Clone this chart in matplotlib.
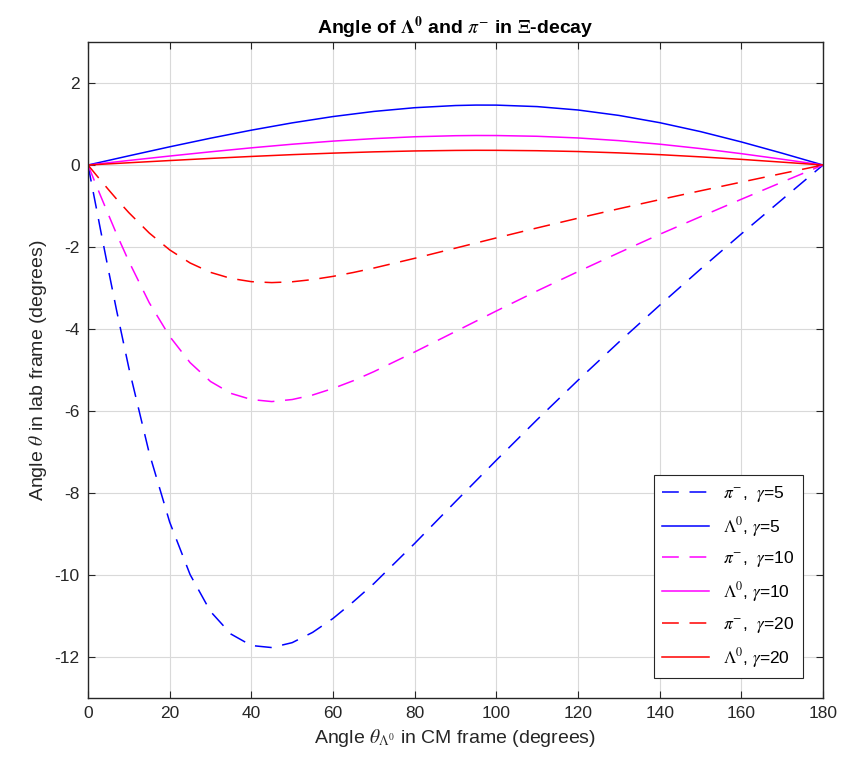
import matplotlib
matplotlib.use("Agg")
import matplotlib.pyplot as plt

plt.rcParams['font.family'] = ['Liberation Sans', 'DejaVu Sans']
plt.rcParams['mathtext.fontset'] = 'stix'
plt.rcParams['axes.unicode_minus'] = False

# CM angle of the Lambda (degrees)
t_pi = [0, 1, 2, 3, 5, 7, 10, 15, 20, 25, 30, 35, 40, 45, 50, 55, 60, 65, 70,
        80, 90, 100, 110, 120, 130, 140, 150, 160, 170, 180]
t_lam = [0, 10, 20, 30, 40, 50, 60, 70, 80, 90, 95, 100, 110, 120, 130,
         140, 150, 160, 170, 180]

# lab angle (degrees)
pi_g5 = [0, -0.518, -1.03, -1.548, -2.56, -3.546, -4.95, -7.03, -8.71, -9.99,
         -10.89, -11.44, -11.72, -11.77, -11.65, -11.40, -11.06, -10.65,
         -10.21, -9.23, -8.21, -7.20, -6.21, -5.25, -4.32, -3.42, -2.54,
         -1.68, -0.84, 0]
pi_g10 = [0, -0.245, -0.49, -0.733, -1.21, -1.683, -2.35, -3.36, -4.18, -4.82,
          -5.28, -5.57, -5.72, -5.77, -5.72, -5.61, -5.45, -5.26, -5.04,
          -4.56, -4.06, -3.56, -3.07, -2.60, -2.14, -1.69, -1.26, -0.835,
          -0.416, 0]
pi_g20 = [0, -0.121, -0.242, -0.362, -0.599, -0.831, -1.162, -1.659, -2.070,
          -2.389, -2.618, -2.766, -2.845, -2.868, -2.848, -2.794, -2.716,
          -2.621, -2.513, -2.276, -2.027, -1.778, -1.534, -1.297, -1.067,
          -0.845, -0.629, -0.417, -0.207, 0]
lam_g5 = [0, 0.224, 0.444, 0.654, 0.850, 1.028, 1.182, 1.307, 1.398, 1.451,
          1.462, 1.461, 1.425, 1.342, 1.210, 1.033, 0.815, 0.563, 0.288, 0]
lam_g10 = [0, 0.111, 0.219, 0.322, 0.419, 0.507, 0.583, 0.644, 0.689, 0.715,
           0.720, 0.719, 0.701, 0.660, 0.595, 0.508, 0.401, 0.277, 0.141, 0]
lam_g20 = [0, 0.055, 0.109, 0.161, 0.209, 0.253, 0.290, 0.321, 0.343, 0.356,
           0.359, 0.358, 0.349, 0.329, 0.296, 0.253, 0.199, 0.138, 0.070, 0]

fig = plt.figure(figsize=(8.43, 7.84), dpi=100)
ax = fig.add_axes([0.1044, 0.1097, 0.8719, 0.8367])

dash = (0, (11, 7))
lw = 1.1
ax.plot(t_pi, pi_g5, color=(0, 0, 1), ls=dash, lw=lw, label=r'$\pi^{-}$,  $\gamma$=5')
ax.plot(t_lam, lam_g5, color=(0, 0, 1), lw=lw, label=r'$\Lambda^0$, $\gamma$=5')
ax.plot(t_pi, pi_g10, color=(1, 0, 1), ls=dash, lw=lw, label=r'$\pi^{-}$,  $\gamma$=10')
ax.plot(t_lam, lam_g10, color=(1, 0, 1), lw=lw, label=r'$\Lambda^0$, $\gamma$=10')
ax.plot(t_pi, pi_g20, color=(1, 0, 0), ls=dash, lw=lw, label=r'$\pi^{-}$,  $\gamma$=20')
ax.plot(t_lam, lam_g20, color=(1, 0, 0), lw=lw, label=r'$\Lambda^0$, $\gamma$=20')

ax.set_xlim(0, 180)
ax.set_ylim(-13, 3)
ax.set_xticks(range(0, 181, 20))
ax.set_yticks(range(-12, 3, 2))
ax.grid(True, color=(0.85, 0.85, 0.85), lw=0.8)
ax.set_axisbelow(True)

dark = (0.15, 0.15, 0.15)
for s in ax.spines.values():
    s.set_color(dark)
    s.set_linewidth(1.0)
ax.tick_params(direction='in', top=True, right=True, length=5, width=0.8,
               colors=dark, labelsize=12.5, pad=6)

ax.set_title(r'Angle of $\mathbf{\Lambda^0}$ and $\pi^{-}$ in $\Xi$-decay',
             fontsize=14, fontweight='bold', pad=6)
ax.set_xlabel(r'Angle $\theta_{\Lambda^0}$ in CM frame (degrees)', fontsize=14,
              color=dark)
ax.set_ylabel(r'Angle $\theta$ in lab frame (degrees)', fontsize=14, color=dark)

leg = ax.legend(loc='lower right', bbox_to_anchor=(0.973, 0.03), fontsize=12.5,
                fancybox=False, framealpha=1, edgecolor=dark, borderaxespad=0,
                handlelength=2.7, labelspacing=0.62, borderpad=0.5)
leg.get_frame().set_linewidth(0.8)

fig.savefig('out.png', dpi=100)
